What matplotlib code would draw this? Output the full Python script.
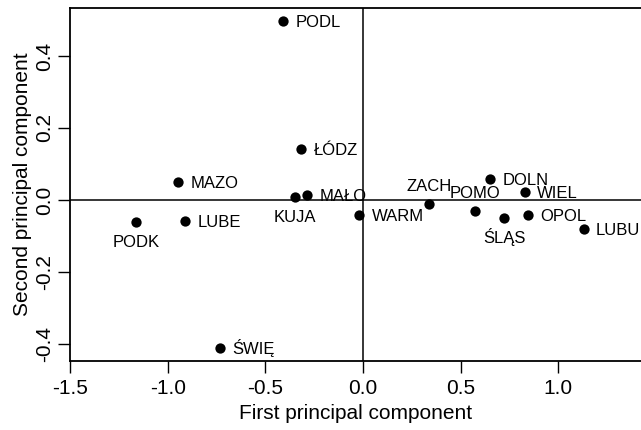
import matplotlib
matplotlib.use("Agg")
import matplotlib.pyplot as plt

plt.rcParams['font.family'] = ['Liberation Sans', 'DejaVu Sans']

# region codes and their scores on the first two principal components
regions = ["PODL", "ŁÓDZ", "MAZO", "KUJA", "MAŁO", "LUBE", "PODK", "ŚWIĘ",
           "WARM", "ZACH", "POMO", "DOLN", "WIEL", "ŚLĄS", "OPOL", "LUBU"]
pc1 = [-0.408, -0.317, -0.946, -0.350, -0.285, -0.911, -1.161, -0.734,
       -0.020, 0.340, 0.575, 0.652, 0.828, 0.724, 0.846, 1.130]
pc2 = [0.497, 0.141, 0.049, 0.009, 0.014, -0.057, -0.062, -0.410,
       -0.042, -0.011, -0.030, 0.058, 0.021, -0.049, -0.043, -0.081]
# where the label sits relative to the point (R text pos: 1 below, 3 above, 4 right)
label_pos = [4, 4, 4, 1, 4, 4, 1, 4, 4, 3, 3, 4, 4, 1, 4, 4]

x_ticks = [-1.5, -1.0, -0.5, 0.0, 0.5, 1.0]
y_ticks = [-0.4, -0.2, 0.0, 0.2, 0.4]

fig = plt.figure(figsize=(6.41, 4.30), dpi=100)
ax = fig.add_axes([70 / 641, 69 / 430, 1 - 70 / 641, 353 / 430])

ax.axhline(0, color="black", lw=1.1, zorder=1)
ax.axvline(0, color="black", lw=1.1, zorder=1)
ax.scatter(pc1, pc2, s=55, color="black", zorder=3, linewidths=0)

fs = 12
for name, x, y, p in zip(regions, pc1, pc2, label_pos):
    if p == 4:
        ax.annotate(name, (x, y), xytext=(9, -0.36 * fs), textcoords="offset points",
                    ha="left", va="baseline", fontsize=fs)
    elif p == 1:
        ax.annotate(name, (x, y), xytext=(0, -13.7 - 0.36 * fs), textcoords="offset points",
                    ha="center", va="baseline", fontsize=fs)
    else:
        ax.annotate(name, (x, y), xytext=(0, 13.7 - 0.36 * fs), textcoords="offset points",
                    ha="center", va="baseline", fontsize=fs)

ax.set_xlim(-1.5, (641 - 363) / 195.2)
ax.set_ylim(-161 / 360, 192 / 360)
ax.set_xticks(x_ticks)
ax.set_xticklabels([f"{v:.1f}" for v in x_ticks])
ax.set_yticks(y_ticks)
ax.set_yticklabels([f"{v:.1f}" for v in y_ticks], rotation=90, va="center")

ax.tick_params(direction="out", length=8.6, width=1.0, labelsize=15)
ax.tick_params(axis="x", pad=4)
ax.tick_params(axis="y", pad=2.5)
ax.spines["right"].set_visible(False)
for s in ["left", "top", "bottom"]:
    ax.spines[s].set_linewidth(1.3)

ax.set_xlabel("First principal component", fontsize=15, labelpad=5)
ax.set_ylabel("Second principal component", fontsize=15, labelpad=2.5)

fig.savefig("out.png", dpi=100)
